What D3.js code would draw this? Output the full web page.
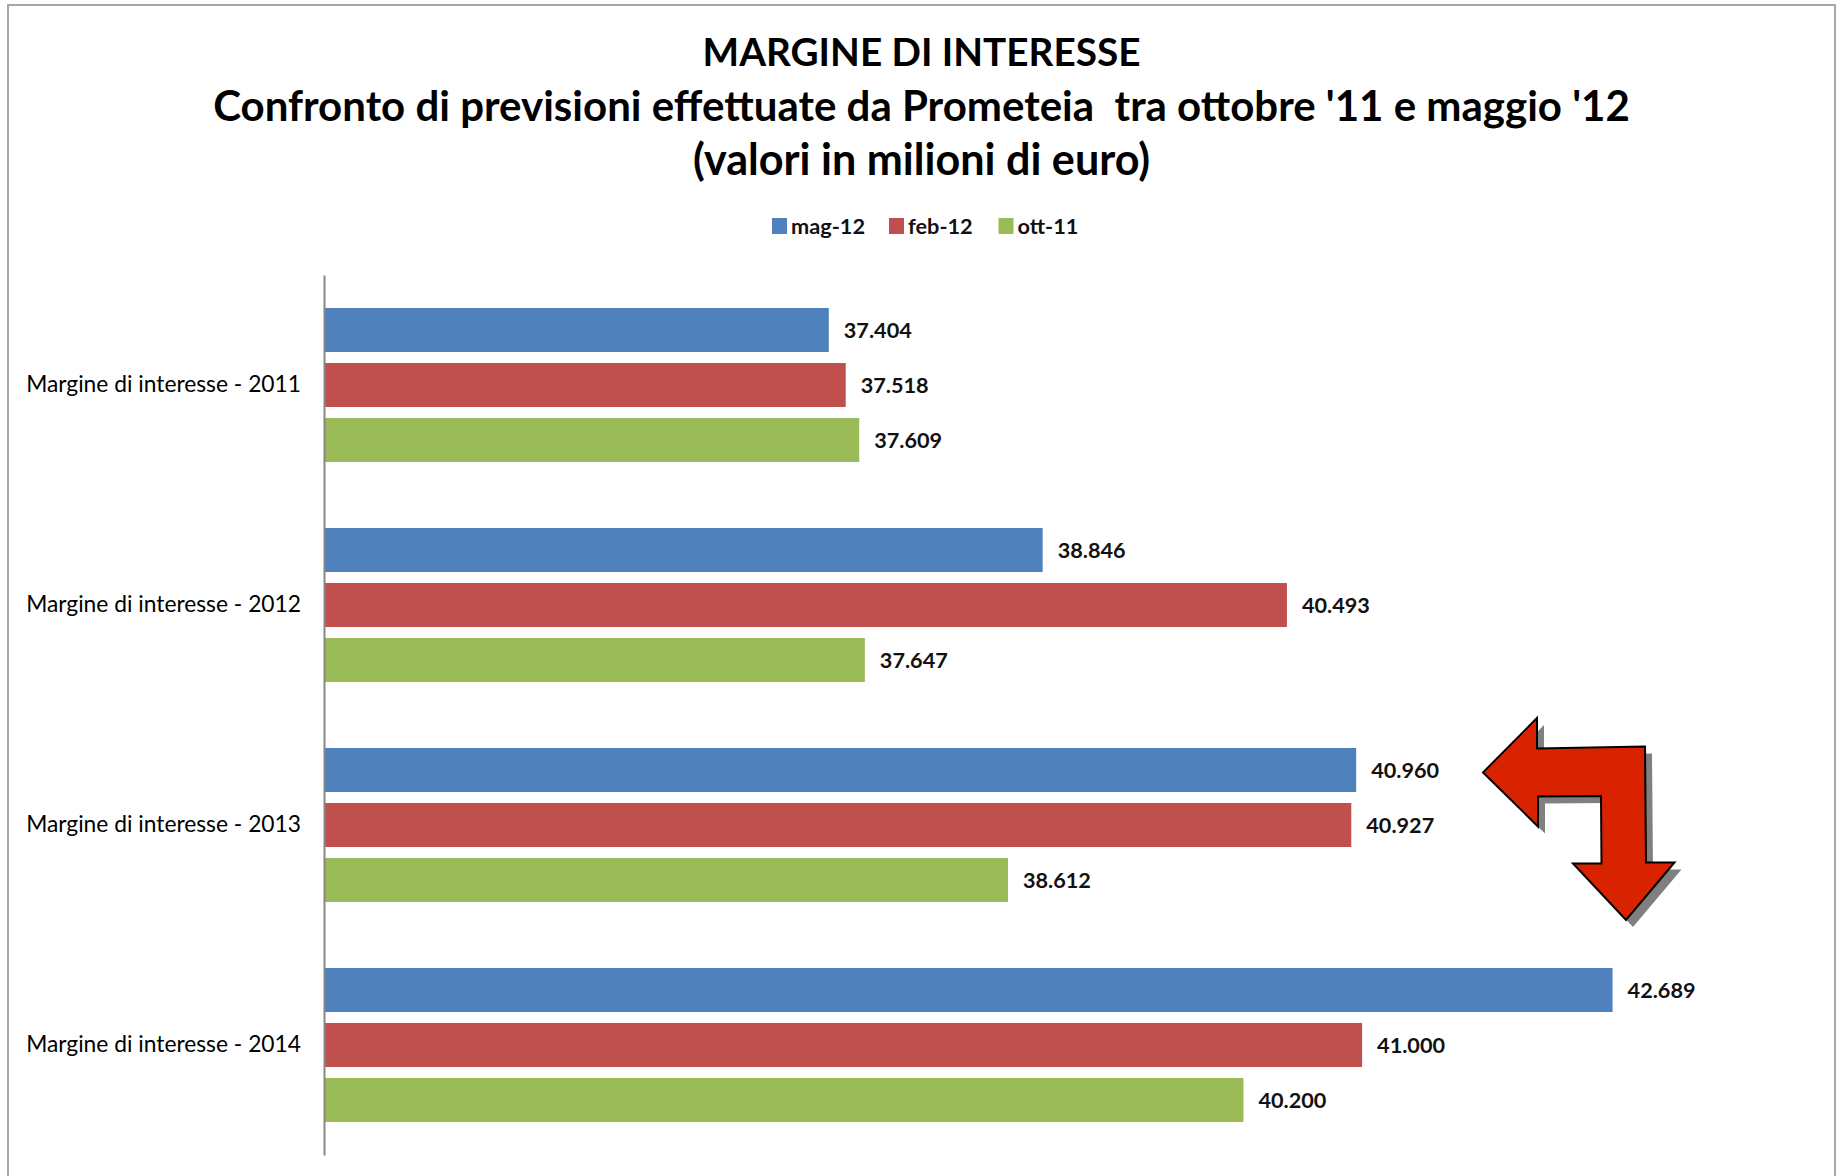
<!DOCTYPE html>
<html>
<head>
<meta charset="utf-8">
<script src="https://cdn.jsdelivr.net/npm/d3@7"></script>
<style>
  html, body { margin: 0; padding: 0; background: #fff; }
  svg { display: block; font-family: Lato, "Open Sans", sans-serif; }
</style>
</head>
<body>
<div id="chart"></div>
<script>
// ── dati ──────────────────────────────────────────────────────────────
const categories = [
  'Margine di interesse - 2011',
  'Margine di interesse - 2012',
  'Margine di interesse - 2013',
  'Margine di interesse - 2014'
];
const seriesNames = ['mag-12', 'feb-12', 'ott-11'];
const mag12 = [37404, 38846, 40960, 42689];
const feb12 = [37518, 40493, 40927, 41000];
const ott11 = [37609, 37647, 38612, 40200];
const seriesColors = ['#4F81BD', '#C0504D', '#9BBB59'];
const xDomain = [34000, 44000];
const titleLines = [
  'MARGINE DI INTERESSE',
  "Confronto di previsioni effettuate da Prometeia\u00a0 tra ottobre '11 e maggio '12",
  '(valori in milioni di euro)'
];

const W = 1842, H = 1176;
const plot = { left: 324, right: 1807, top: 275, bottom: 1155 };

const it = d3.formatLocale({ decimal: ',', thousands: '.', grouping: [3], currency: ['€', ''] });
const fmt = it.format(',d');

const svg = d3.select('#chart').append('svg')
  .attr('width', W).attr('height', H);

// cornice
svg.append('rect')
  .attr('x', 8).attr('y', 5)
  .attr('width', 1827).attr('height', 1190)
  .attr('fill', 'none').attr('stroke', '#a6a6a6').attr('stroke-width', 2);

// adatta il font alla larghezza voluta
function fit(sel, target) {
  sel.style('font-size', '100px');
  const w = sel.node().getComputedTextLength();
  const size = 100 * target / w;
  sel.style('font-size', size + 'px');
  return size;
}

// ── titolo ──
const titleY = [52, 106, 160];
const titleW = [438, 1417, 457];
titleLines.forEach((t, i) => {
  const el = svg.append('text')
    .attr('x', 921.5).attr('y', titleY[i])
    .attr('text-anchor', 'middle')
    .attr('dy', '0.35em')
    .attr('font-weight', 700)
    .attr('fill', '#000')
    .text(t);
  fit(el, titleW[i]);
});

// ── legenda ──
const legX = [772, 889, 998.5];
const legend = svg.append('g');
let legSize = null;
seriesNames.forEach((s, i) => {
  legend.append('rect')
    .attr('x', legX[i]).attr('y', 218)
    .attr('width', 15).attr('height', 16)
    .attr('fill', seriesColors[i]);
  const t = legend.append('text')
    .attr('x', legX[i] + 19).attr('y', 226)
    .attr('dy', '0.35em')
    .attr('font-weight', 700)
    .attr('fill', '#111')
    .text(s);
  if (legSize === null) legSize = fit(t, 74);
  else t.style('font-size', legSize + 'px');
});

// ── scale ──
const y = d3.scaleBand()
  .domain(categories)
  .range([plot.top, plot.bottom]);

const ySub = d3.scaleBand()
  .domain(seriesNames)
  .range([0, y.bandwidth()])
  .paddingInner(0.2)
  .paddingOuter(0.6);

const x = d3.scaleLinear()
  .domain(xDomain)
  .range([plot.left, plot.right]);

const rows = categories.map((c, i) => ({
  cat: c,
  vals: [mag12[i], feb12[i], ott11[i]].map((v, j) => ({ s: seriesNames[j], v, c: seriesColors[j] }))
}));

// ── barre ──
const groups = svg.append('g').selectAll('g.cat')
  .data(rows)
  .enter().append('g')
  .attr('class', 'cat')
  .attr('transform', d => `translate(0,${y(d.cat)})`);

groups.selectAll('rect')
  .data(d => d.vals)
  .enter().append('rect')
  .attr('x', x(xDomain[0]))
  .attr('y', d => ySub(d.s))
  .attr('width', d => x(d.v) - x(xDomain[0]))
  .attr('height', ySub.bandwidth())
  .attr('fill', d => d.c);

// etichette valori
const valLabels = groups.selectAll('text.val')
  .data(d => d.vals)
  .enter().append('text')
  .attr('class', 'val')
  .attr('x', d => x(d.v) + 15)
  .attr('y', d => ySub(d.s) + ySub.bandwidth() / 2)
  .attr('dy', '0.35em')
  .attr('font-weight', 700)
  .attr('fill', '#111')
  .text(d => fmt(d.v));
{
  const first = d3.select(valLabels.nodes()[0]);
  const sz = fit(first, 68);
  valLabels.style('font-size', sz + 'px');
}

// ── asse categorie ──
const yAxis = svg.append('g')
  .attr('transform', `translate(${plot.left},0)`)
  .call(d3.axisLeft(y).tickSize(0).tickPadding(23));
yAxis.select('.domain').attr('stroke', '#868686').attr('stroke-width', 2);
const catTexts = yAxis.selectAll('.tick text')
  .attr('fill', '#000')
  .attr('font-family', 'Lato, "Open Sans", sans-serif');
{
  const first = d3.select(catTexts.nodes()[0]);
  const sz = fit(first, 275);
  catTexts.style('font-size', sz + 'px');
}

// ── freccia (annotazione) ──
const arrowPts = [
  [1483, 772.5], [1537, 718], [1537, 748.5], [1645, 746.5],
  [1646, 862.5], [1674.5, 862.5], [1626, 920], [1573, 863.5],
  [1601.5, 863.5], [1601, 796], [1538, 796.5], [1538, 826.5]
];
const arrowPath = d3.line()(arrowPts) + 'Z';
svg.append('path')
  .attr('d', arrowPath)
  .attr('transform', 'translate(7,7)')
  .attr('fill', '#808080');
svg.append('path')
  .attr('d', arrowPath)
  .attr('fill', '#D92300')
  .attr('stroke', '#000')
  .attr('stroke-width', 2)
  .attr('stroke-linejoin', 'miter');
</script>
</body>
</html>
